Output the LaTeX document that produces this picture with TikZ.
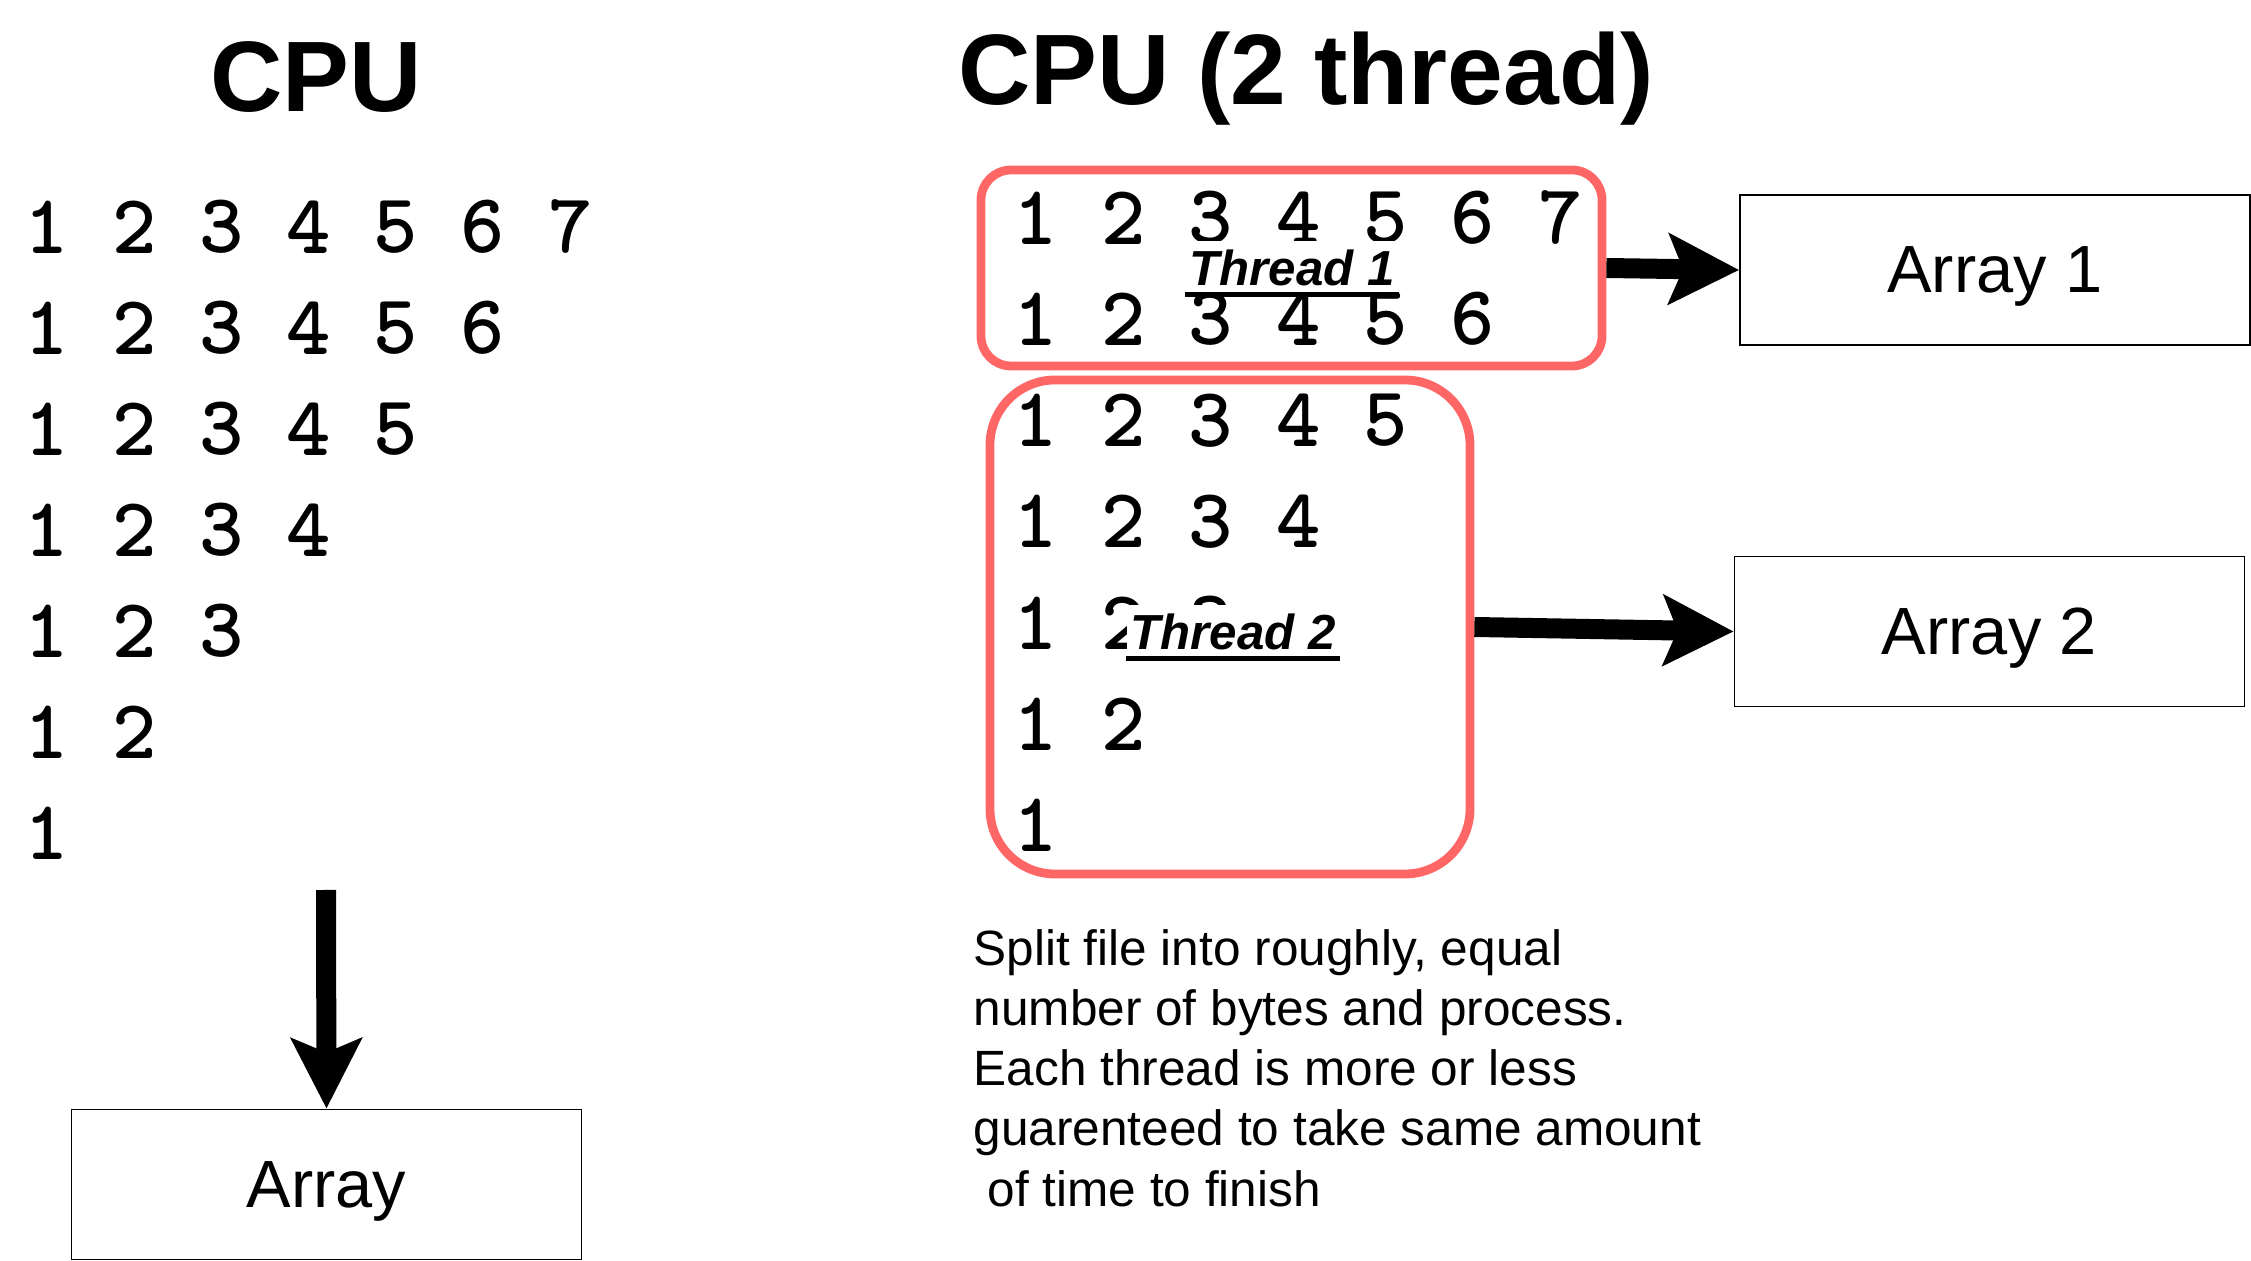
\documentclass[tikz,border=0pt]{standalone}
\usepackage{fontspec}
\setmainfont{Liberation Sans}
\usetikzlibrary{arrows.meta}
\definecolor{threadred}{HTML}{FF6666}
\tikzset{
  digit/.style={inner sep=0pt, font=\fontsize{24}{24}\selectfont\ttfamily\bfseries},
  title/.style={anchor=base, inner sep=0pt, font=\fontsize{28.5}{30}\selectfont\bfseries},
  arraybox/.style={draw, line width=0.5pt, minimum width=51mm, minimum height=15mm,
    text depth=0pt, font=\fontsize{19}{22}\selectfont},
  threadbox/.style={draw=threadred, line width=2.5pt},
  threadlbl/.style={fill=white, inner xsep=1pt, inner ysep=2.5pt,
    font=\fontsize{14}{16}\selectfont\bfseries\itshape},
  bigarrow/.style={line width=2mm, -{Stealth[length=7mm, width=7mm, inset=1.4mm]}},
  note/.style={align=left, inner sep=0pt, font=\fontsize{14.1}{17.1}\selectfont},
}

\begin{document}
\begin{tikzpicture}[x=0.1mm, y=-0.1mm]
\useasboundingbox (0,0) rectangle (2251,1261);

% Single CPU: the whole triangle of lines goes through one core into one array.
\node[title] (cpu) at (316,112) {CPU};
\foreach \r in {1,...,7}{
  \pgfmathtruncatemacro{\last}{8-\r}
  \foreach \c in {1,...,\last}
    \node[digit] (s\r-\c) at ({47+87.2*(\c-1)},{227+101*(\r-1)}) {\c};
}
\node[arraybox] (arr) at (326.5,1184.5) {Array};
\coordinate (drop) at (326,890);
\draw[bigarrow] (drop) -- (arr.north);

% Two threads: the same lines cut in two chunks of about equal size.
\node[title] (cpu2) at (1306,105) {CPU (2 thread)};
\node[threadbox, rounded corners=3mm, minimum width=62.1mm, minimum height=19.6mm]
  (t1) at (1291.5,268) {};
\node[threadbox, rounded corners=6.5mm, minimum width=48mm, minimum height=49.4mm]
  (t2) at (1230,627) {};
\foreach \r in {1,...,7}{
  \pgfmathtruncatemacro{\last}{8-\r}
  \foreach \c in {1,...,\last}
    \node[digit] (m\r-\c) at ({1036+87.4*(\c-1)},{218+101.2*(\r-1)}) {\c};
}
\node[threadlbl] (lbl1) at (1292,268) {Thread 1};
\draw[line width=1.3pt] ([yshift=-2.5pt]lbl1.base west) -- ([yshift=-2.5pt]lbl1.base east);
\node[threadlbl] (lbl2) at (1233,632) {Thread 2};
\draw[line width=1.3pt] ([yshift=-2.5pt]lbl2.base west) -- ([yshift=-2.5pt]lbl2.base east);

\node[arraybox] (arr1) at (1995,270) {Array 1};
\node[arraybox] (arr2) at (1989.5,631.5) {Array 2};
\draw[bigarrow] (t1.east) -- (arr1.west);
\draw[bigarrow] (t2.east) -- (arr2.west);

\node[note, anchor=north west] (why) at (973,929)
  {Split file into roughly, equal\\
   number of bytes and process.\\
   Each thread is more or less\\
   guarenteed to take same amount\\
   \hspace*{0.28em}of time to finish};
\end{tikzpicture}
\end{document}
